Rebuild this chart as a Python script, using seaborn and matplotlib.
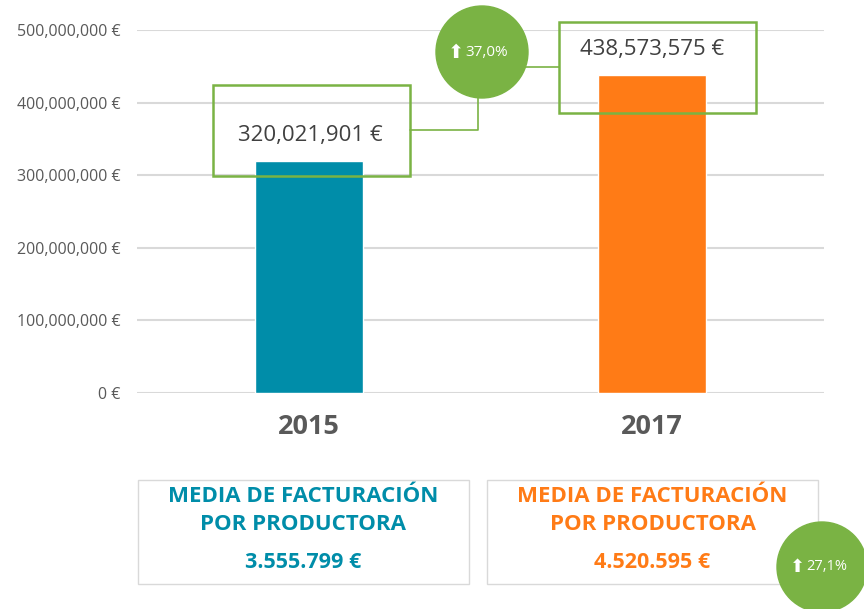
import matplotlib
matplotlib.use("Agg")
import matplotlib.pyplot as plt
from matplotlib.patches import Rectangle, Ellipse
from matplotlib.lines import Line2D
from matplotlib.ticker import FuncFormatter
import seaborn as sns
import pandas as pd

# datos
years = ["2015", "2017"]
billing = [320021901, 438573575]
growth_total = "37,0%"
avg_labels = ["3.555.799 €", "4.520.595 €"]
growth_avg = "27,1%"
yticks = [0, 100e6, 200e6, 300e6, 400e6, 500e6]

teal = "#008DA9"
orange = "#FF7B16"
green = "#7AB344"
grey_txt = "#595959"

sns.set_theme(style="white")
plt.rcParams['font.family'] = ['Open Sans', 'DejaVu Sans']

W, H = 864, 609
fig = plt.figure(figsize=(W / 100, H / 100), dpi=100)


def fx(x):
    return x / W


def fy(y):
    return 1 - y / H


ax = fig.add_axes([fx(137), fy(393), 687 / W, 363 / H])
df = pd.DataFrame({"year": years, "value": billing})
sns.barplot(data=df, x="year", y="value", hue="year", palette=[teal, orange],
            width=0.314, legend=False, ax=ax, saturation=1)

ax.set_xlim(-0.5, 1.5)
ax.set_ylim(0, 500e6)
ax.set_yticks(yticks)
ax.yaxis.set_major_formatter(FuncFormatter(lambda v, p: f"{v:,.0f} €"))
ax.set_xlabel("")
ax.set_ylabel("")
for s in ax.spines.values():
    s.set_visible(False)
ax.yaxis.grid(True, color="#d9d9d9", lw=1.5)
ax.set_axisbelow(True)
ax.axhline(0, color="#d0d0d0", lw=2, zorder=0.5)
ax.tick_params(axis="y", length=0, pad=12, labelsize=11.5, labelcolor=grey_txt)
ax.tick_params(axis="x", length=0, pad=15, labelsize=19.5, labelcolor=grey_txt)
for lab in ax.get_xticklabels():
    lab.set_fontweight("bold")

# cajas verdes con el valor
boxes = [(213, 85, 410, 176), (559, 22, 756, 113)]
label_pos = [(310, 136), (652, 49)]
for (x0, y0, x1, y1), (tx, ty), v in zip(boxes, label_pos, billing):
    fig.add_artist(Rectangle((fx(x0), fy(y1)), (x1 - x0) / W, (y1 - y0) / H,
                             transform=fig.transFigure, fill=False,
                             ec=green, lw=1.8, zorder=5))
    fig.text(fx(tx), fy(ty), f"{v:,.0f} €", ha="center", va="center",
             fontsize=16, color="#404040", zorder=6)

# conector y circulo de crecimiento
fig.add_artist(Line2D([fx(410), fx(478), fx(478)], [fy(130), fy(130), fy(95)],
                      transform=fig.transFigure, color=green, lw=1.2, zorder=4))
fig.add_artist(Line2D([fx(520), fx(559)], [fy(67), fy(67)],
                      transform=fig.transFigure, color=green, lw=1.2, zorder=4))
r = 46
fig.add_artist(Ellipse((fx(482), fy(52)), 2 * r / W, 2 * r / H,
                       transform=fig.transFigure, color=green, zorder=7))
fig.text(fx(456), fy(52), "⬆", ha="center", va="center", family="DejaVu Sans",
         fontsize=14, color="white", zorder=8)
fig.text(fx(465), fy(52), growth_total, ha="left", va="center",
         fontsize=11, color="white", zorder=8)

# cajas inferiores
cards = [(138, 469, teal), (487, 818, orange)]
for (x0, x1, col), val in zip(cards, avg_labels):
    fig.add_artist(Rectangle((fx(x0), fy(584)), (x1 - x0) / W, 104 / H,
                             transform=fig.transFigure, fill=False,
                             ec="#d9d9d9", lw=1, zorder=5))
    cx = fx((x0 + x1) / 2)
    fig.text(cx, fy(497), "MEDIA DE FACTURACIÓN", ha="center", va="center",
             fontsize=16, fontweight="bold", color=col)
    fig.text(cx, fy(524), "POR PRODUCTORA", ha="center", va="center",
             fontsize=16, fontweight="bold", color=col)
    fig.text(cx, fy(563), val, ha="center", va="center",
             fontsize=15.5, fontweight="bold", color=col)

r2 = 45
fig.add_artist(Ellipse((fx(822), fy(567)), 2 * r2 / W, 2 * r2 / H,
                       transform=fig.transFigure, color=green, zorder=7))
fig.text(fx(797), fy(567), "⬆", ha="center", va="center", family="DejaVu Sans",
         fontsize=13, color="white", zorder=8)
fig.text(fx(806), fy(567), growth_avg, ha="left", va="center",
         fontsize=10.5, color="white", zorder=8)

fig.savefig("out.png", dpi=100)
